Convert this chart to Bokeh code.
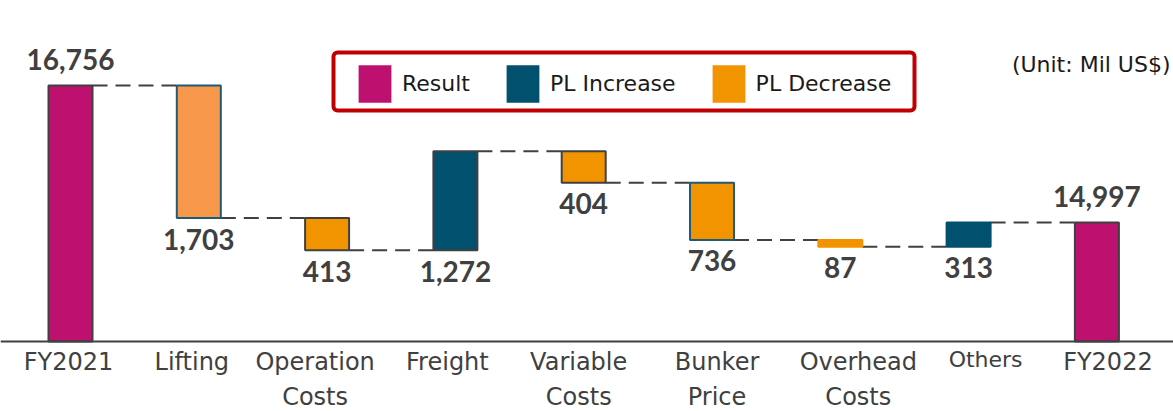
from bokeh.plotting import figure
from bokeh.models import (ColumnDataSource, Range1d, Span, Legend, LegendItem, Label,
                          BoxAnnotation)
from bokeh.core.properties import value
from bokeh.embed import file_html
from bokeh.resources import INLINE

# ---------------- data ----------------
categories = ["FY2021", "Lifting", "Operation\nCosts", "Freight", "Variable\nCosts",
              "Bunker\nPrice", "Overhead\nCosts", "Others", "FY2022"]
kinds = ["result", "decrease", "decrease", "increase", "decrease",
         "decrease", "decrease", "increase", "result"]
amounts = [16756, -1703, -413, 1272, -404, -736, -87, 313, 14997]
value_labels = ["16,756", "1,703", "413", "1,272", "404", "736", "87", "313", "14,997"]
legend_labels = ["Result", "PL Increase", "PL Decrease"]
unit_text = "(Unit: Mil US$)"

# ---------------- style ----------------
AXIS_FLOOR = 13469          # value sitting on the drawn baseline
BAR_W = 0.343
COL = {"result": "#BE106E", "increase": "#00506E", "decrease": "#F29400"}
over_fill = ["#BE106E", "#F7984A", "#F29400", "#00506E", "#F29400",
             "#F29400", "#F29400", "#00506E", "#BE106E"]
over_fill_alpha = [0, 1, 0, 0, 0, 0, 0, 0, 0]
line_colors = ["#404040", "#1F5A78", "#404040", "#404040", "#404040",
               "#1F5A78", "#F29400", "#00506E", "#404040"]
label_dx = [-2, -7, -12, -8, -5, 5, 18, 17, 11]
cat_sizes = ["24px"] * 7 + ["22px", "24px"]
cat_dy1 = [21] * 7 + [18, 21]
TXT = "#404040"

# ---------------- waterfall geometry ----------------
xs = list(range(len(categories)))
bottoms, tops, levels = [], [], []
running = 0
for k, a in zip(kinds, amounts):
    if k == "result":
        bottoms.append(AXIS_FLOOR)
        tops.append(a)
        running = a
    else:
        start, end = running, running + a
        bottoms.append(min(start, end))
        tops.append(max(start, end))
        running = end
    levels.append(running)

p = figure(width=1173, height=411,
           x_range=Range1d(-0.5456, 8.5970), y_range=Range1d(12570, 17847),
           output_backend="svg", toolbar_location=None,
           x_axis_location=None, y_axis_location=None, min_border=0)
p.grid.visible = False
p.outline_line_color = None
p.background_fill_color = "white"

# connectors
conn = ColumnDataSource(dict(
    x0=[i + BAR_W / 2 for i in xs[:-1]],
    x1=[i + 1 - BAR_W / 2 for i in xs[:-1]],
    y=levels[:-1]))
p.segment(x0="x0", y0="y", x1="x1", y1="y", source=conn,
          line_color="#404040", line_width=2, line_dash="15 8")

# bars, one renderer per kind (these feed the legend)
kind_renderers = {}
for kind in ["result", "increase", "decrease"]:
    idx = [i for i, k in enumerate(kinds) if k == kind]
    src = ColumnDataSource(dict(x=[xs[i] for i in idx],
                                bottom=[bottoms[i] for i in idx],
                                top=[tops[i] for i in idx]))
    kind_renderers[kind] = p.vbar(x="x", bottom="bottom", top="top", width=BAR_W,
                                  source=src, fill_color=COL[kind], line_color=None)

# outlines / individual tints on top
over = ColumnDataSource(dict(x=xs, bottom=bottoms, top=tops, fill=over_fill,
                             fa=over_fill_alpha, line=line_colors))
p.vbar(x="x", bottom="bottom", top="top", width=BAR_W, source=over,
       fill_color="fill", fill_alpha="fa", line_color="line", line_width=2)

# baseline
p.add_layout(Span(location=AXIS_FLOOR, dimension="width",
                  line_color="#404040", line_width=2))

# value labels
res_idx = [i for i, k in enumerate(kinds) if k == "result"]
chg_idx = [i for i, k in enumerate(kinds) if k != "result"]
res_src = ColumnDataSource(dict(x=[xs[i] for i in res_idx], y=[tops[i] for i in res_idx],
                                t=[value_labels[i] for i in res_idx]))
chg_src = ColumnDataSource(dict(x=[xs[i] for i in chg_idx], y=[bottoms[i] for i in chg_idx],
                                t=[value_labels[i] for i in chg_idx]))
vl = dict(text="t", text_align="center", text_baseline="alphabetic",
          text_font=value("Lato"), text_font_style="bold", text_font_size="28px",
          text_color=TXT)
p.text(x="x", y="y", source=res_src, y_offset=-26, **vl)
p.text(x="x", y="y", source=chg_src, y_offset=21, **vl)

# category labels
line1 = [c.split("\n")[0] for c in categories]
line2 = [c.split("\n")[1] if "\n" in c else "" for c in categories]
cat_src = ColumnDataSource(dict(x=xs, y=[AXIS_FLOOR] * len(xs), l1=line1, l2=line2,
                                dx=label_dx, dy1=cat_dy1, size=cat_sizes))
cl = dict(text_align="center", text_baseline="alphabetic",
          text_font=value("DejaVu Sans"), text_font_size="size", text_color=TXT)
p.text(x="x", y="y", text="l1", x_offset="dx", y_offset="dy1", source=cat_src, **cl)
p.text(x="x", y="y", text="l2", x_offset="dx", y_offset=56, source=cat_src, **cl)

# legend frame (red box) and legend entries
p.add_layout(BoxAnnotation(left=333, right=914, bottom=301, top=359,
                           left_units="screen", right_units="screen",
                           bottom_units="screen", top_units="screen",
                           fill_color=None, line_color="#C00000", line_width=4,
                           line_alpha=1, border_radius=4))
legend = Legend(items=[LegendItem(label=lab, renderers=[kind_renderers[k]])
                       for lab, k in zip(legend_labels, ["result", "increase", "decrease"])],
                orientation="horizontal", location=(354, 304),
                border_line_color=None, background_fill_alpha=0,
                padding=0, spacing=32, label_standoff=7, margin=0,
                glyph_width=41, glyph_height=47, label_height=47,
                label_text_font="DejaVu Sans", label_text_font_size="22px",
                label_text_color="#1A1A1A", label_text_baseline="middle")
p.add_layout(legend)

p.add_layout(Label(x=1170, y=347, x_units="screen", y_units="screen", text=unit_text,
                   text_align="right", text_baseline="alphabetic",
                   text_font="DejaVu Sans", text_font_size="22px", text_color="#1A1A1A"))

open("out.html", "w").write(file_html(p, INLINE))
